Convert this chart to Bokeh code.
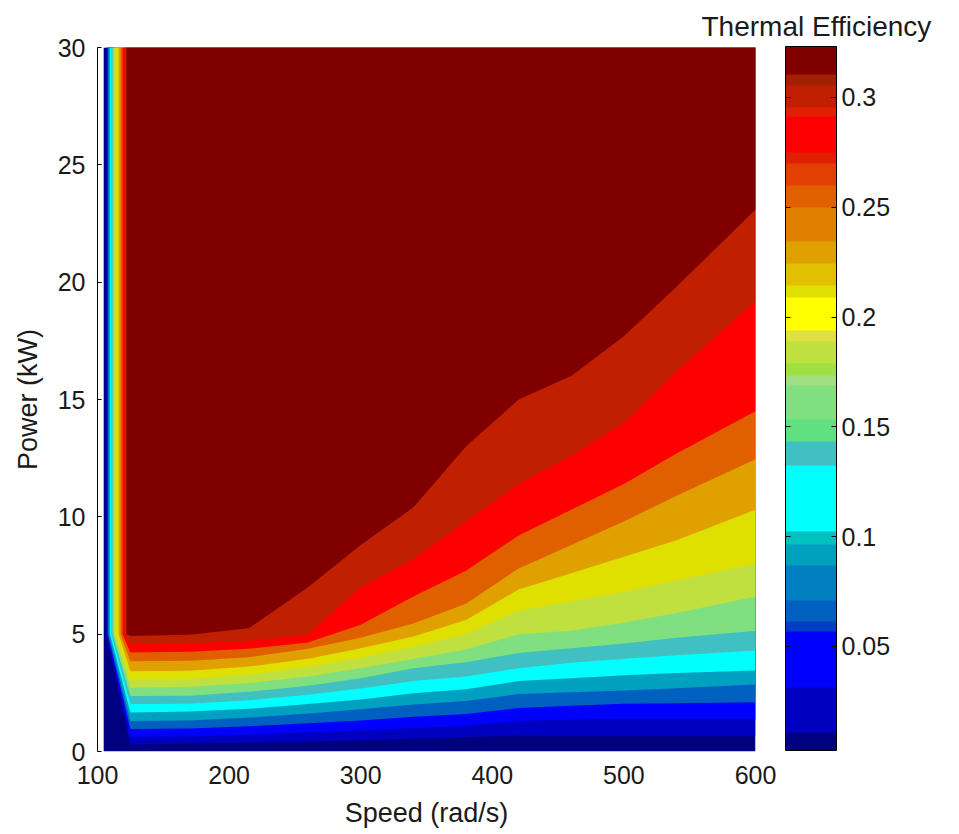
from bokeh.plotting import figure
from bokeh.models import ColorBar, LinearColorMapper, FixedTicker, Range1d
from bokeh.embed import file_html
from bokeh.resources import INLINE

# ---------------- data ----------------
speed_min = 104.7      # first speed of the map (rad/s)
speed_max = 600.0
power_max = 30.0
kink_power = 5.0       # power where the low-speed stripes turn

# speeds at which the contour boundaries were read
speeds = [125, 170, 215, 260, 300, 340, 380, 420, 460, 500, 540, 600]

# contour boundaries (power, kW) between successive efficiency bands, bottom to top
b01 = [0.30, 0.34, 0.38, 0.43, 0.48, 0.55, 0.62, 0.68, 0.68, 0.68, 0.68, 0.68]
b02 = [0.62, 0.64, 0.72, 0.82, 0.90, 1.00, 1.10, 1.30, 1.36, 1.40, 1.40, 1.40]
b03 = [0.96, 0.98, 1.08, 1.20, 1.32, 1.48, 1.60, 1.85, 1.95, 2.03, 2.06, 2.10]
b04 = [1.30, 1.32, 1.45, 1.62, 1.80, 2.00, 2.15, 2.45, 2.52, 2.60, 2.70, 2.85]
b05 = [1.66, 1.70, 1.82, 2.02, 2.22, 2.48, 2.65, 3.00, 3.12, 3.25, 3.35, 3.45]
b06 = [2.02, 2.04, 2.18, 2.42, 2.68, 3.00, 3.20, 3.55, 3.78, 3.95, 4.10, 4.30]
b07 = [2.36, 2.38, 2.55, 2.80, 3.12, 3.55, 3.80, 4.20, 4.40, 4.60, 4.85, 5.15]
b08 = [2.72, 2.76, 2.92, 3.20, 3.55, 3.95, 4.35, 5.00, 5.15, 5.50, 5.90, 6.60]
b09 = [3.06, 3.10, 3.28, 3.60, 4.00, 4.45, 5.00, 6.00, 6.40, 6.80, 7.30, 8.00]
b10 = [3.42, 3.44, 3.62, 3.95, 4.40, 4.90, 5.60, 6.90, 7.60, 8.30, 9.00, 10.30]
b11 = [3.85, 3.87, 4.02, 4.38, 4.85, 5.45, 6.30, 7.80, 8.80, 9.80, 10.90, 12.45]
b12 = [4.22, 4.25, 4.38, 4.65, 5.40, 6.60, 7.70, 9.20, 10.30, 11.40, 12.70, 14.50]
b13 = [4.58, 4.60, 4.72, 5.00, 7.00, 8.20, 9.80, 11.40, 12.60, 14.00, 16.20, 19.20]
b14 = [4.92, 4.97, 5.25, 7.00, 8.80, 10.40, 13.00, 15.00, 16.00, 17.70, 19.80, 23.10]

# speed of each boundary in the vertical low-speed stripes (above kink_power)
left_edge = [106.6, 107.2, 107.8, 108.5, 109.5, 110.5, 111.5, 112.6,
             113.7, 116.0, 117.5, 119.0, 120.6, 122.0]

# fill colours of the 15 bands, lowest efficiency first
band_colors = ["#000080", "#0000C0", "#0000FF", "#0060C0", "#00A0C0",
               "#00FFFF", "#40C0C0", "#80E080", "#C0E040", "#E0E000",
               "#E0A000", "#E06000", "#FF0000", "#C02000", "#800000"]

# colour bar: band edges (efficiency) and colours, bottom to top
cb_edges = [0.0026, 0.0104, 0.0313, 0.0568, 0.0614, 0.0709, 0.0869, 0.0964,
            0.1024, 0.1324, 0.1434, 0.1534, 0.1689, 0.1734, 0.1789, 0.1889,
            0.1939, 0.2089, 0.2144, 0.2244, 0.2344, 0.2499, 0.2599, 0.2700,
            0.2750, 0.2909, 0.2954, 0.3055, 0.3109, 0.3232]
cb_colors = ["#000080", "#0000C0", "#0000FF", "#0040C0", "#0060C0", "#0080C0",
             "#00A0C0", "#00C0C0", "#00FFFF", "#40C0C0", "#60E080", "#80E080",
             "#A0E080", "#A0E040", "#C0E040", "#E0E040", "#FFFF00", "#E0E000",
             "#E0C000", "#E0A000", "#E08000", "#E06000", "#E04000", "#E02000",
             "#FF0000", "#E02000", "#C02000", "#A02000", "#800000"]
cb_ticks = [0.05, 0.1, 0.15, 0.2, 0.25, 0.3]
cb_tick_labels = ["0.05", "0.1", "0.15", "0.2", "0.25", "0.3"]

x_ticks = [100, 200, 300, 400, 500, 600]
y_ticks = [0, 5, 10, 15, 20, 25, 30]

FONT = "Liberation Sans"

# ---------------- figure ----------------
p = figure(width=955, height=830,
           x_range=Range1d(100, 600), y_range=Range1d(0, 30),
           output_backend="svg", toolbar_location=None,
           min_border_left=97, min_border_right=200,
           min_border_top=47, min_border_bottom=77,
           title="Thermal Efficiency")
p.outline_line_color = None
p.xgrid.visible = False
p.ygrid.visible = False
p.background_fill_color = "white"

p.title.align = "left"
p.title.offset = 604
p.title.standoff = 11
p.title.text_font = FONT
p.title.text_font_size = "28px"
p.title.text_font_style = "normal"
p.title.text_color = "#1a1a1a"

# base band (lowest efficiency)
p.quad(left=[speed_min], right=[speed_max], bottom=[0], top=[power_max],
       fill_color=band_colors[0], line_color=None)

# higher bands painted on top of each other
boundaries = [b01, b02, b03, b04, b05, b06, b07, b08, b09, b10, b11, b12, b13, b14]
xs_list, ys_list = [], []
for e, b in zip(left_edge, boundaries):
    xs_list.append([e, speed_max] + speeds[::-1] + [e])
    ys_list.append([power_max, power_max] + b[::-1] + [kink_power])
p.patches(xs_list, ys_list, fill_color=band_colors[1:], line_color=None)

# axes
for ax in (p.xaxis[0], p.yaxis[0]):
    ax.major_label_text_font = FONT
    ax.major_label_text_font_size = "25px"
    ax.major_label_text_color = "#1a1a1a"
    ax.axis_label_text_font = FONT
    ax.axis_label_text_font_size = "27px"
    ax.axis_label_text_font_style = "normal"
    ax.axis_label_text_color = "#1a1a1a"
    ax.minor_tick_line_color = None

p.xaxis.axis_label = "Speed (rad/s)"
p.xaxis.ticker = FixedTicker(ticks=x_ticks)
p.xaxis.axis_line_color = None
p.xaxis.major_tick_line_color = None
p.xaxis.major_label_standoff = 8
p.xaxis.axis_label_standoff = 11

p.yaxis.axis_label = "Power (kW)"
p.yaxis.ticker = FixedTicker(ticks=y_ticks)
p.yaxis.axis_line_color = "black"
p.yaxis.major_tick_line_color = "black"
p.yaxis.major_tick_in = 4
p.yaxis.major_tick_out = 0
p.yaxis.major_label_standoff = 12
p.yaxis.axis_label_standoff = 12

# colour bar
n_steps = 640
cb_low, cb_high = cb_edges[0], cb_edges[-1]
fine_palette = []
for i in range(n_steps):
    v = cb_low + (i + 0.5) * (cb_high - cb_low) / n_steps
    j = 0
    while j < len(cb_colors) - 1 and v >= cb_edges[j + 1]:
        j += 1
    fine_palette.append(cb_colors[j])
mapper = LinearColorMapper(palette=fine_palette, low=cb_low, high=cb_high)

cbar = ColorBar(color_mapper=mapper, location=(688, 1), width=51, height=704,
                padding=0, margin=0,
                ticker=FixedTicker(ticks=cb_ticks),
                major_label_overrides={t: s for t, s in zip(cb_ticks, cb_tick_labels)},
                major_label_text_font=FONT, major_label_text_font_size="25px",
                major_label_text_color="#1a1a1a",
                major_tick_in=5, major_tick_out=0, major_tick_line_color="black",
                minor_tick_line_color=None, label_standoff=5,
                bar_line_color="black", bar_line_width=1,
                border_line_color=None, background_fill_color=None)
p.add_layout(cbar, "center")

# transparent twin colour bar whose outward ticks mark the bar's left edge
cbar_left = ColorBar(color_mapper=mapper, location=(687, 1), width=1, height=704,
                     padding=0, margin=0, scale_alpha=0,
                     ticker=FixedTicker(ticks=cb_ticks),
                     major_label_text_color=None,
                     major_tick_in=0, major_tick_out=5, major_tick_line_color="black",
                     minor_tick_line_color=None,
                     bar_line_color=None,
                     border_line_color=None, background_fill_color=None)
p.add_layout(cbar_left, "center")

open("out.html", "w").write(file_html(p, INLINE))
